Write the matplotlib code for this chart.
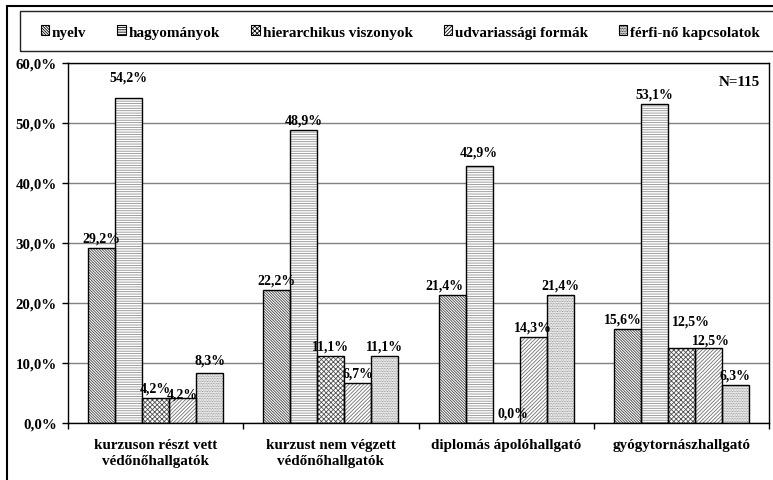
import matplotlib
matplotlib.use("Agg")
import matplotlib.pyplot as plt
from matplotlib.patches import Rectangle, Patch
import numpy as np

plt.rcParams['font.family'] = ['Liberation Serif', 'DejaVu Serif']
plt.rcParams['font.weight'] = 'bold'
plt.rcParams['hatch.linewidth'] = 0.6

# data
categories = ["kurzuson részt vett\nvédőnőhallgatók",
              "kurzust nem végzett\nvédőnőhallgatók",
              "diplomás ápolóhallgató",
              "gyógytornászhallgató"]
series_names = ["nyelv", "hagyományok", "hierarchikus viszonyok",
                "udvariassági formák", "férfi-nő kapcsolatok"]
nyelv = [29.2, 22.2, 21.4, 15.6]
hagyomanyok = [54.2, 48.9, 42.9, 53.1]
hierarchikus = [4.2, 11.1, 0.0, 12.5]
udvariassagi = [4.2, 6.7, 14.3, 12.5]
ferfi_no = [8.3, 11.1, 21.4, 6.3]
n_label = "N=115"

values = [nyelv, hagyomanyok, hierarchikus, udvariassagi, ferfi_no]
hatches = ['\\' * 12, '-' * 7, 'x' * 7, '/' * 9, '.' * 10]
hatch_colors = ['#404040', '#909090', '#505050', '#707070', '#808080']

# label nudges in pixels (series, group) -> (dx, dy), like the hand-moved Excel labels
nudges = {(1, 0): (0, 11), (3, 0): (0, -6), (4, 0): (0, 3),
          (0, 2): (-8, 0), (2, 2): (7, 0), (1, 2): (0, 4),
          (0, 3): (-5, 0), (2, 3): (10, 17), (3, 3): (3, -2)}

def pct(v):
    return f"{v:.1f}%".replace('.', ',')

W, H = 773, 481
fig = plt.figure(figsize=(W / 100, H / 100), dpi=100)
ax = fig.add_axes([68 / W, 57 / H, 701 / W, 360 / H])

x = np.arange(len(categories))
bw = 0.154
for k, (vals, h, hc) in enumerate(zip(values, hatches, hatch_colors)):
    pos = x + (k - 2) * bw
    ax.bar(pos, vals, bw, color='white', edgecolor=hc, hatch=h, linewidth=0, zorder=2)
    ax.bar(pos, vals, bw, color='none', edgecolor='black', linewidth=1, zorder=3)
    for g, (p, v) in enumerate(zip(pos, vals)):
        dx, dy = nudges.get((k, g), (0, 0))
        ax.annotate(pct(v), (p, v), xytext=(dx * 0.72, (10 + dy) * 0.72),
                    textcoords='offset points', ha='center', va='center',
                    fontsize=10, fontweight='bold', zorder=4)

ax.set_xlim(-0.5, 3.5)
ax.set_ylim(0, 60)
ax.set_yticks(np.arange(0, 61, 10))
ax.set_yticklabels([pct(t) for t in np.arange(0, 61, 10)], fontsize=10.7, fontweight='bold')
ax.set_xticks(np.arange(-0.5, 3.6, 1))
ax.set_xticklabels([])
ax.set_xticks(x, minor=True)
ax.set_xticklabels(categories, minor=True, fontsize=10.9, fontweight='bold', linespacing=1.3)
ax.tick_params(axis='x', which='minor', length=0, pad=11)
ax.tick_params(axis='x', which='major', length=4, width=1, direction='out')
ax.tick_params(axis='y', length=4, width=1, pad=4)
ax.yaxis.grid(True, color='#808080', linewidth=1)
ax.set_axisbelow(True)
for s in ax.spines.values():
    s.set_color('black')
    s.set_linewidth(1)

ax.text((760 - 68) / 701, 1 - 18 / 360, n_label, transform=ax.transAxes,
        ha='right', va='center', fontsize=10.9, fontweight='bold')

# outer frame and legend box
fig.patches.append(Rectangle((7 / W, -0.05), 1.1, 1 - 7 / H + 0.05, transform=fig.transFigure,
                             fill=False, edgecolor='black', linewidth=1.5))
fig.patches.append(Rectangle((20 / W, 1 - 52 / H), 1.1, 40 / H, transform=fig.transFigure,
                             fill=False, edgecolor='#222222', linewidth=1))

handles = [Patch(facecolor='white', edgecolor='black', hatch=h, linewidth=0.8) for h in hatches]
fig.legend(handles, series_names, loc='center left', bbox_to_anchor=(33 / W, 1 - 33 / H),
           ncol=5, frameon=False, borderpad=0, handlelength=0.55, handleheight=0.6,
           handletextpad=0.2, columnspacing=2.05, prop={'size': 10.9, 'weight': 'bold'})

fig.savefig('out.png', dpi=100)
